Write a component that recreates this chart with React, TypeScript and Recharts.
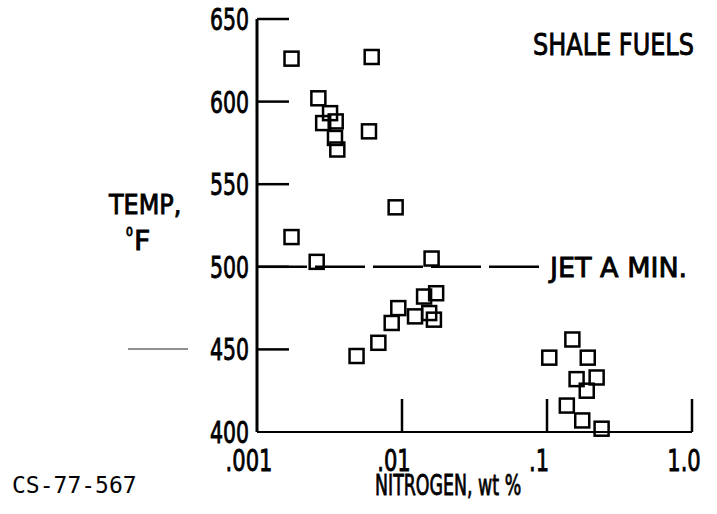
import { ScatterChart, Scatter, XAxis, YAxis, ReferenceLine } from "recharts";

// nitrogen content (wt %) and temperature (°F), shale-derived fuels
const nitrogen = [
  0.00173, 0.00618, 0.00265, 0.00319, 0.00286, 0.00349, 0.00345, 0.00358,
  0.00592, 0.00904, 0.00173, 0.00258, 0.016, 0.00486, 0.00687, 0.00849,
  0.00943, 0.0123, 0.0142, 0.0172, 0.0154, 0.0166, 0.1037, 0.1496, 0.191,
  0.16, 0.22, 0.188, 0.137, 0.175, 0.238,
];
const temperature = [
  626, 627, 602, 593, 587, 588, 578, 571, 582, 536, 518, 503, 505, 446, 454,
  466, 475, 470, 482, 484, 472, 468, 445, 456, 445, 432, 433, 425, 416, 407,
  402,
];

const xTicks = [0.001, 0.01, 0.1, 1];
const xTickLabels = [".001", ".01", ".1", "1.0"];
const yTicks = [400, 450, 500, 550, 600, 650];

const jetAMinTemp = 500;
const jetAMinSpan = [0.001, 0.097];

const data = nitrogen.map((n, i) => ({ n, t: temperature[i] }));

const font = "'DejaVu Sans', sans-serif";

// squeezed, slightly heavy text, close to the condensed lettering of the original
const Squeezed = ({ x, y, sx, size, anchor = "start", children }: any) => (
  <text
    transform={`translate(${x},${y}) scale(${sx},1)`}
    textAnchor={anchor}
    fontFamily={font}
    fontSize={size}
    fill="#000"
    stroke="#000"
    strokeWidth={0.9}
  >
    {children}
  </text>
);

const Square = (props: any) => {
  const { cx, cy } = props;
  return (
    <rect x={cx - 7} y={cy - 7} width={14} height={14} fill="none" stroke="#000" strokeWidth={2.5} />
  );
};

const YTick = ({ x, y, payload }: any) => (
  <g>
    {payload.value !== 400 && (
      <line x1={x} x2={x + 32} y1={y} y2={y} stroke="#000" strokeWidth={2.5} />
    )}
    <Squeezed x={x - 8} y={y + 11} sx={0.66} size={31} anchor="end">
      {payload.value}
    </Squeezed>
  </g>
);

const XTick = ({ x, y, payload, index }: any) => (
  <g>
    {payload.value !== 0.001 && (
      <line x1={x} x2={x} y1={y} y2={y - 33} stroke="#000" strokeWidth={2.5} />
    )}
    <Squeezed x={x - 8} y={y + 39} sx={0.68} size={31} anchor="middle">
      {xTickLabels[index]}
    </Squeezed>
  </g>
);

export default function App() {
  return (
    <div style={{ position: "absolute", left: 0, top: 0, width: 717, height: 514, background: "#fff" }}>
      <ScatterChart width={717} height={514} margin={{ top: 19, right: 25, bottom: 0, left: 0 }}>
        <XAxis
          dataKey="n"
          type="number"
          scale="log"
          domain={[0.001, 1]}
          ticks={xTicks}
          height={82}
          tickSize={0}
          tickMargin={0}
          tickLine={false}
          axisLine={{ stroke: "#000", strokeWidth: 2 }}
          tick={<XTick />}
          interval={0}
        />
        <YAxis
          dataKey="t"
          type="number"
          domain={[400, 650]}
          ticks={yTicks}
          width={257}
          tickSize={0}
          tickMargin={0}
          tickLine={false}
          axisLine={{ stroke: "#000", strokeWidth: 3 }}
          tick={<YTick />}
          interval={0}
        />
        <ReferenceLine
          segment={[
            { x: jetAMinSpan[0], y: jetAMinTemp },
            { x: jetAMinSpan[1], y: jetAMinTemp },
          ]}
          stroke="#000"
          strokeWidth={2.5}
          strokeDasharray="50 8"
        />
        <Scatter data={data} shape={<Square />} isAnimationActive={false} />
      </ScatterChart>

      <svg
        width={717}
        height={514}
        style={{ position: "absolute", left: 0, top: 0, pointerEvents: "none" }}
      >
        <Squeezed x={533} y={55} sx={0.8} size={30}>SHALE FUELS</Squeezed>
        <Squeezed x={550} y={277} sx={1} size={27}>JET A MIN.</Squeezed>
        <Squeezed x={109} y={214} sx={0.92} size={26}>TEMP,</Squeezed>
        <Squeezed x={126} y={236} sx={0.9} size={12}>0</Squeezed>
        <Squeezed x={134} y={250} sx={1.05} size={27}>F</Squeezed>
        <line x1={128} x2={188} y1={349} y2={349} stroke="#222" strokeWidth={1} />
        <Squeezed x={375} y={495} sx={0.6} size={29}>NITROGEN, wt %</Squeezed>
        <text x={12} y={493} fontSize={23} fontFamily="'DejaVu Sans Mono', monospace" fill="#000">
          CS-77-567
        </text>
      </svg>
    </div>
  );
}
